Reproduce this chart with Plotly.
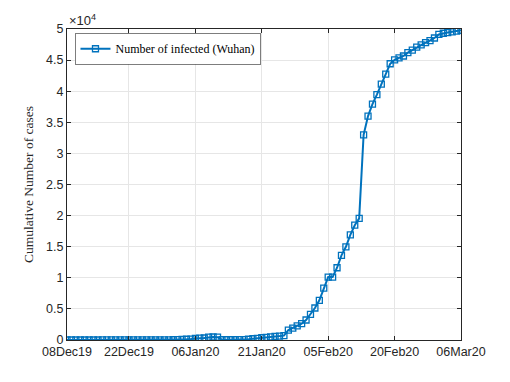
import pandas as pd
import plotly.graph_objects as go

start_date = "2019-12-08"
end_date = "2020-03-06"

# Cumulative cases, one value per day from 08Dec19 to 06Mar20
cases = [
    # Dec 8 - Dec 31
    1, 1, 1, 2, 2, 3, 3, 4, 5, 5, 6, 7, 8, 9, 10, 12, 13, 15, 16, 18, 20, 22, 25, 27,
    # Jan 1 - Jan 17
    44, 59, 80, 120, 150, 250, 300, 320, 450, 480, 450, 41, 41, 41, 41, 45, 62,
    # Jan 18 - Jan 31
    121, 198, 258, 363, 425, 495, 572, 618, 698, 1590, 1905, 2261, 2639, 3215,
    # Feb 1 - Feb 29
    4109, 5142, 6384, 8351, 10117, 10117, 11618, 13603, 14982, 16902, 18454, 19558,
    32994, 35991, 37914, 39462, 41152, 42752, 44412, 45027, 45346, 45660, 46201,
    46607, 47071, 47441, 47824, 48137, 48557,
    # Mar 1 - Mar 6
    49122, 49315, 49426, 49540, 49671, 49797,
]

x_tick_dates = ["2019-12-08", "2019-12-22", "2020-01-06", "2020-01-21",
                "2020-02-05", "2020-02-20", "2020-03-06"]
x_tick_labels = ["08Dec19", "22Dec19", "06Jan20", "21Jan20",
                 "05Feb20", "20Feb20", "06Mar20"]
y_tick_vals = [0, 5000, 10000, 15000, 20000, 25000, 30000, 35000, 40000, 45000, 50000]
y_tick_labels = ["0", "0.5", "1", "1.5", "2", "2.5", "3", "3.5", "4", "4.5", "5"]

dates = pd.date_range(start_date, end_date, freq="D")

blue = "#0072BD"
axis_col = "#262626"
grid_col = "#e6e6e6"
sans = "Liberation Sans, Arial, sans-serif"
serif = "Liberation Serif, Times New Roman, serif"

fig = go.Figure()
fig.add_trace(go.Scatter(
    x=dates, y=cases, mode="lines+markers",
    name="Number of infected (Wuhan)",
    line=dict(color=blue, width=2),
    marker=dict(symbol="square-open", size=6, color=blue, line=dict(width=1.3, color=blue)),
))

axis_common = dict(
    showline=True, linecolor=axis_col, linewidth=1, mirror="ticks",
    ticks="inside", ticklen=4, tickcolor=axis_col,
    showgrid=True, gridcolor=grid_col, gridwidth=1, zeroline=False,
    tickfont=dict(family=sans, size=12.5, color=axis_col),
)

fig.update_xaxes(
    range=[pd.Timestamp(start_date), pd.Timestamp(end_date)],
    tickvals=pd.to_datetime(x_tick_dates), ticktext=x_tick_labels,
    **axis_common,
)
fig.update_yaxes(
    range=[0, 50000], tickvals=y_tick_vals, ticktext=y_tick_labels,
    title=dict(text="Cumulative Number of cases", font=dict(family=serif, size=13.5, color=axis_col), standoff=9),
    **axis_common,
)

fig.add_annotation(
    x=0, y=1, xref="paper", yref="paper", xanchor="left", yanchor="bottom",
    text="×10<sup>4</sup>", showarrow=False, yshift=-1,
    font=dict(family=sans, size=13, color=axis_col),
)

# page body has an 8px margin; shrink the figure so the plot area lands where the reference has it
fig.update_layout(
    width=502, height=374,
    margin=dict(l=59, r=49, t=21, b=42),
    paper_bgcolor="white", plot_bgcolor="white",
    showlegend=True,
    legend=dict(
        x=0.02, y=0.985, xanchor="left", yanchor="top",
        bgcolor="white", bordercolor=axis_col, borderwidth=0.6,
        font=dict(family=serif, size=12, color="black"),
        tracegroupgap=0,
    ),
)

fig.write_html("out.html")
